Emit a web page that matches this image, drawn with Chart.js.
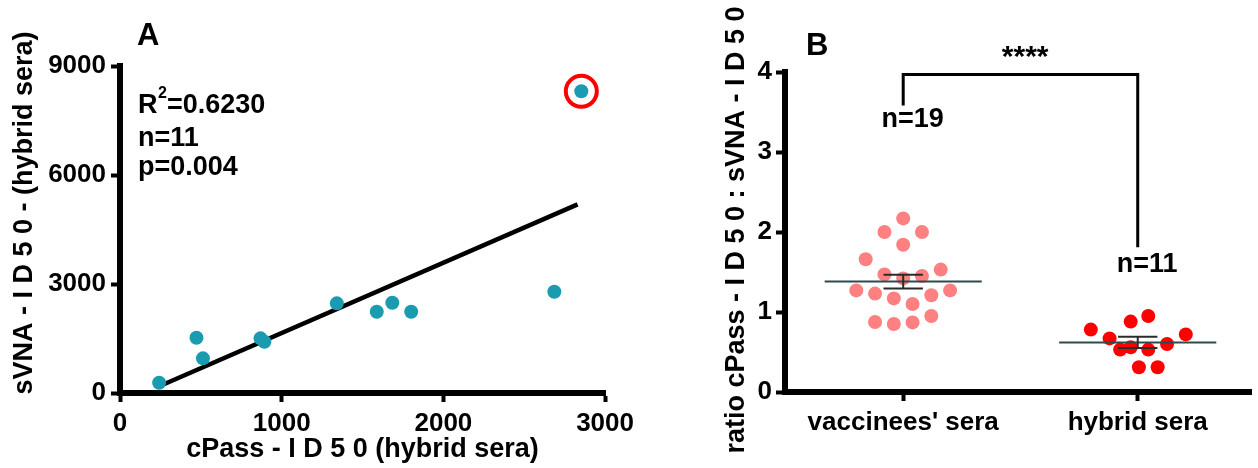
<!DOCTYPE html>
<html>
<head>
<meta charset="utf-8">
<script src="https://cdn.jsdelivr.net/npm/chart.js"></script>
<style>
  html, body { margin: 0; padding: 0; background: #fff; }
  #wrap { position: relative; width: 1258px; height: 468px; overflow: hidden; }
  #chartA { position: absolute; left: 0; top: 0; }
  #chartB { position: absolute; left: 640px; top: 0; }
</style>
</head>
<body>
<div id="wrap">
  <canvas id="chartA" width="640" height="468"></canvas>
  <canvas id="chartB" width="618" height="468"></canvas>
</div>
<script>
// Panel A - cPass vs sVNA ID50, hybrid sera (last point is the circled one)
const cpassId50 = [242, 473, 513, 869, 893, 1341, 1588, 1684, 1801, 2686, 2853];
const svnaId50 = [283, 1521, 954, 1504, 1411, 2467, 2236, 2483, 2236, 2786, 8305];
const circledIndex = 10;
const fitCpass = [250, 2830];
const fitSvna = [200, 5193];
const xTicksA = [0, 1000, 2000, 3000];
const yTicksA = [0, 3000, 6000, 9000];

// Panel B - ratio cPass : sVNA ID50
const groups = ["vaccinees' sera", 'hybrid sera'];
const vaccineeRatio = [2.17, 2.0, 2.0, 1.84, 1.66, 1.47, 1.45, 1.53, 1.42, 1.27, 1.23, 1.17, 1.10, 1.21, 1.27, 0.875, 0.85, 0.87, 0.95];
const vaccineeSpread = [0, -0.08, 0.08, 0, -0.16, -0.08, 0.08, 0.16, 0, -0.2, -0.12, -0.04, 0.04, 0.12, 0.2, -0.12, -0.04, 0.04, 0.12];
const hybridRatio = [0.78, 0.67, 0.53, 0.56, 0.88, 0.95, 0.53, 0.60, 0.72, 0.31, 0.31];
const hybridSpread = [-0.2, -0.12, -0.075, -0.03, -0.03, 0.045, 0.045, 0.125, 0.205, 0.005, 0.085];
const groupMean = [1.38, 0.62];
const groupSem = [0.085, 0.07];
const yTicksB = [0, 1, 2, 3, 4];

const FONT = "'Liberation Sans', Arial, sans-serif";
const TEAL = '#1a9bb0';

function axisStyle(tickPad, fmt) {
    return {
        border: { display: true, width: 6, color: '#000' },
        grid: { display: true, drawOnChartArea: false, drawTicks: true, tickLength: 9, tickWidth: 4, tickColor: '#000' },
        ticks: { color: '#000', font: { family: FONT, size: 26, weight: 'bold' }, padding: tickPad, maxRotation: 0,
                 callback: fmt || (v => String(v)) }
    };
}

function setTicks(values) {
    return scale => { scale.ticks = values.map(v => ({ value: v })); };
}

function drawText(ctx, text, x, y, size, align, rotate) {
    ctx.save();
    ctx.fillStyle = '#000';
    ctx.font = 'bold ' + size + 'px ' + FONT;
    ctx.textAlign = align;
    ctx.textBaseline = rotate ? 'middle' : 'alphabetic';
    ctx.translate(x, y);
    if (rotate) ctx.rotate(-Math.PI / 2);
    ctx.fillText(text, 0, 0);
    ctx.restore();
}

// ---------- Panel A ----------
const pointsA = cpassId50.map((x, i) => ({ x: x, y: svnaId50[i] }));

const labelsA = {
    id: 'labelsA',
    afterDraw(chart) {
        const ctx = chart.ctx;
        drawText(ctx, 'A', 137, 45, 31, 'left');
        drawText(ctx, 'R', 138, 113, 27, 'left');
        drawText(ctx, '2', 158, 98, 16, 'left');
        drawText(ctx, '=0.6230', 167, 113, 27, 'left');
        drawText(ctx, 'n=11', 138, 146, 27, 'left');
        drawText(ctx, 'p=0.004', 138, 175, 27, 'left');
        drawText(ctx, 'sVNA - I D 5 0 - (hybrid sera)', 25, 213, 27, 'center', true);
    }
};

new Chart(document.getElementById('chartA'), {
    type: 'scatter',
    data: {
        datasets: [{
            data: pointsA,
            pointRadius: 7,
            pointHoverRadius: 7,
            pointBackgroundColor: TEAL,
            pointBorderWidth: 0
        }, {
            data: [pointsA[circledIndex]],
            pointRadius: 15.5,
            pointBackgroundColor: 'rgba(0,0,0,0)',
            pointBorderColor: '#ff0000',
            pointBorderWidth: 4
        }, {
            type: 'line',
            data: fitCpass.map((x, i) => ({ x: x, y: fitSvna[i] })),
            borderColor: '#000',
            borderWidth: 4.5,
            pointRadius: 0,
            fill: false
        }]
    },
    options: {
        responsive: false,
        devicePixelRatio: 1,
        animation: false,
        layout: { padding: { top: 66, right: 33, left: 0, bottom: 0 } },
        plugins: { legend: { display: false }, tooltip: { enabled: false } },
        elements: { point: { hitRadius: 0 } },
        scales: {
            x: Object.assign(axisStyle(6), {
                type: 'linear', min: 0, max: 3000,
                afterBuildTicks: setTicks(xTicksA),
                afterFit: s => { s.height = 75; },
                title: { display: true, text: 'cPass - I D 5 0 (hybrid sera)', color: '#000',
                         font: { family: FONT, size: 27, weight: 'bold' }, padding: { top: 0, bottom: 2 } }
            }),
            y: Object.assign(axisStyle(5), {
                type: 'linear', min: 0, max: 9000,
                afterBuildTicks: setTicks(yTicksA),
                afterFit: s => { s.width = 120; }
            })
        }
    },
    plugins: [labelsA]
});

// ---------- Panel B ----------
const MEAN_HALF = 0.335;
const CAP_HALF = 0.084;

const summaryB = {
    id: 'summaryB',
    afterDatasetsDraw(chart) {
        const ctx = chart.ctx;
        const xs = chart.scales.x, ys = chart.scales.y;
        ctx.save();
        groupMean.forEach((m, i) => {
            const c = i + 1;
            // mean line
            ctx.strokeStyle = '#2f4a4d';
            ctx.lineWidth = 2;
            ctx.beginPath();
            ctx.moveTo(xs.getPixelForValue(c - MEAN_HALF), ys.getPixelForValue(m));
            ctx.lineTo(xs.getPixelForValue(c + MEAN_HALF), ys.getPixelForValue(m));
            ctx.stroke();
            // SEM bar
            const lo = ys.getPixelForValue(m - groupSem[i]);
            const hi = ys.getPixelForValue(m + groupSem[i]);
            ctx.strokeStyle = '#2b2b2b';
            ctx.beginPath();
            ctx.moveTo(xs.getPixelForValue(c), lo);
            ctx.lineTo(xs.getPixelForValue(c), hi);
            ctx.moveTo(xs.getPixelForValue(c - CAP_HALF), lo);
            ctx.lineTo(xs.getPixelForValue(c + CAP_HALF), lo);
            ctx.moveTo(xs.getPixelForValue(c - CAP_HALF), hi);
            ctx.lineTo(xs.getPixelForValue(c + CAP_HALF), hi);
            ctx.stroke();
        });
        ctx.restore();
    },
    afterDraw(chart) {
        const ctx = chart.ctx;
        const xs = chart.scales.x, ys = chart.scales.y;
        // significance bracket
        ctx.save();
        ctx.strokeStyle = '#000';
        ctx.lineWidth = 3;
        ctx.beginPath();
        ctx.moveTo(xs.getPixelForValue(1), ys.getPixelForValue(3.58));
        ctx.lineTo(xs.getPixelForValue(1), ys.getPixelForValue(3.97));
        ctx.lineTo(xs.getPixelForValue(2), ys.getPixelForValue(3.97));
        ctx.lineTo(xs.getPixelForValue(2), ys.getPixelForValue(1.81));
        ctx.stroke();
        ctx.restore();
        drawText(ctx, '****', xs.getPixelForValue(1.52), ys.getPixelForValue(4.08), 30, 'center');
        drawText(ctx, 'n=' + vaccineeRatio.length, xs.getPixelForValue(1.04), ys.getPixelForValue(3.31), 27, 'center');
        drawText(ctx, 'n=' + hybridRatio.length, xs.getPixelForValue(2.04), ys.getPixelForValue(1.5), 27, 'center');
        drawText(ctx, 'B', 166, 55, 31, 'left');
        drawText(ctx, 'ratio cPass - I D 5 0 : sVNA - I D 5 0', 97, 230, 27, 'center', true);
    }
};

new Chart(document.getElementById('chartB'), {
    type: 'scatter',
    data: {
        datasets: [{
            data: vaccineeRatio.map((v, i) => ({ x: 1 + vaccineeSpread[i], y: v })),
            pointRadius: 7,
            pointBackgroundColor: '#ff8080',
            pointBorderWidth: 0
        }, {
            data: hybridRatio.map((v, i) => ({ x: 2 + hybridSpread[i], y: v })),
            pointRadius: 7,
            pointBackgroundColor: '#ff0000',
            pointBorderWidth: 0
        }]
    },
    options: {
        responsive: false,
        devicePixelRatio: 1,
        animation: false,
        layout: { padding: { top: 72, right: 0, left: 0, bottom: 0 } },
        plugins: { legend: { display: false }, tooltip: { enabled: false } },
        elements: { point: { hitRadius: 0 } },
        scales: {
            x: Object.assign(axisStyle(6, v => groups[Math.round(v) - 1]), {
                type: 'linear', min: 0.496, max: 2.483,
                afterBuildTicks: setTicks([1, 2]),
                afterFit: s => { s.height = 76; }
            }),
            y: Object.assign(axisStyle(4), {
                type: 'linear', min: 0, max: 4,
                afterBuildTicks: setTicks(yTicksB),
                afterFit: s => { s.width = 145; }
            })
        }
    },
    plugins: [summaryB]
});
</script>
</body>
</html>
